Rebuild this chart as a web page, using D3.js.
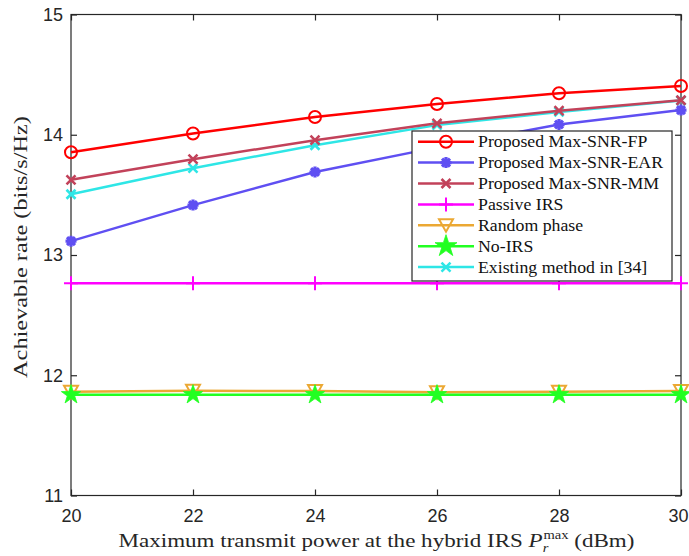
<!DOCTYPE html>
<html><head><meta charset="utf-8">
<script src="https://cdn.jsdelivr.net/npm/d3@7"></script>
<style>body{margin:0;background:#fff}svg{display:block}</style>
</head><body>
<svg id="c" width="689" height="556"></svg>
<script>
const xValues = [20, 22, 24, 26, 28, 30];
const seriesNames = ["Proposed Max-SNR-FP","Proposed Max-SNR-EAR","Proposed Max-SNR-MM","Passive IRS","Random phase","No-IRS","Existing method in [34]"];
const fpValues = [13.855, 14.01, 14.148, 14.256, 14.345, 14.405];
const earValues = [13.115, 13.415, 13.69, 13.895, 14.085, 14.205];
const mmValues = [13.625, 13.797, 13.955, 14.095, 14.200, 14.287];
const existingValues = [13.505, 13.722, 13.913, 14.08, 14.19, 14.285];
const passiveValues = [12.765, 12.765, 12.765, 12.765, 12.765, 12.765];
const randomValues = [11.862, 11.872, 11.868, 11.858, 11.862, 11.87];
const noIrsValues = [11.838, 11.838, 11.838, 11.838, 11.838, 11.838];
const xTicks = [20, 22, 24, 26, 28, 30];
const yTicks = [11, 12, 13, 14, 15];

const series = [
  {name: seriesNames[0], values: fpValues, color: "#ff0000", marker: "circle"},
  {name: seriesNames[1], values: earValues, color: "#5f4ff2", marker: "asterisk"},
  {name: seriesNames[2], values: mmValues, color: "#c2425a", marker: "x"},
  {name: seriesNames[3], values: passiveValues, color: "#ff00ff", marker: "plus"},
  {name: seriesNames[4], values: randomValues, color: "#eba833", marker: "tridown"},
  {name: seriesNames[5], values: noIrsValues, color: "#22ff22", marker: "star"},
  {name: seriesNames[6], values: existingValues, color: "#2ee6e6", marker: "x"}
];
const drawOrder = [4, 5, 3, 1, 6, 2, 0];

const svg = d3.select("#c");
const L = 71, R = 681, T = 14.5, B = 495.5;
const x = d3.scaleLinear().domain([20, 30]).range([L, R]);
const y = d3.scaleLinear().domain([11, 15]).range([B, T]);
const axisColor = "#262626";
const serif = "'Liberation Serif', 'Times New Roman', serif";

// axes with inward ticks
const gx = svg.append("g").attr("transform", `translate(0,${B})`)
  .call(d3.axisBottom(x).tickValues(xTicks).tickSizeInner(-6).tickSizeOuter(0).tickPadding(14).tickFormat(d3.format("d")));
const gxt = svg.append("g").attr("transform", `translate(0,${T})`)
  .call(d3.axisTop(x).tickValues(xTicks).tickSizeInner(-6).tickSizeOuter(0).tickFormat(""));
const gy = svg.append("g").attr("transform", `translate(${L},0)`)
  .call(d3.axisLeft(y).tickValues(yTicks).tickSizeInner(-6).tickSizeOuter(0).tickPadding(14).tickFormat(d3.format("d")));
const gyr = svg.append("g").attr("transform", `translate(${R},0)`)
  .call(d3.axisRight(y).tickValues(yTicks).tickSizeInner(-6).tickSizeOuter(0).tickFormat(""));
[gx, gxt, gy, gyr].forEach(g => {
  g.select(".domain").remove();
  g.selectAll(".tick line").attr("stroke", axisColor).attr("stroke-width", 1.2);
  g.selectAll(".tick text").attr("fill", "#262626").style("font-family", "'Liberation Sans', Arial, sans-serif").style("font-size", "18px");
});
gx.selectAll(".tick text").attr("dy", "0.71em").attr("y", 14)
  .attr("dx", d => d === 30 ? -3 : 0);
gy.selectAll(".tick text").attr("x", -8);
svg.append("rect").attr("x", L).attr("y", T).attr("width", R - L).attr("height", B - T)
  .attr("fill", "none").attr("stroke", axisColor).attr("stroke-width", 1.2);

function markerPath(type, legend) {
  switch (type) {
    case "circle": return d3.arc()({innerRadius: 0, outerRadius: 6, startAngle: 0, endAngle: 2 * Math.PI});
    case "asterisk": {
      const r = 5.5, d = r * 0.72;
      return `M${-r},0L${r},0M0,${-r}L0,${r}M${-d},${-d}L${d},${d}M${-d},${d}L${d},${-d}`;
    }
    case "x": { const r = 4.5; return `M${-r},${-r}L${r},${r}M${-r},${r}L${r},${-r}`; }
    case "plus": { const r = 7; return `M${-r},0L${r},0M0,${-r}L0,${r}`; }
    case "tridown": return "M-7,-6L7,-6L0,6.5Z";
    case "star": return d3.symbol(d3.symbolStar, legend ? 150 : 115)();
  }
}
function drawMarker(g, type, color, cx, cy, legend) {
  const p = g.append("path").attr("d", markerPath(type, legend)).attr("transform", `translate(${cx},${cy})`);
  if (type === "star") p.attr("fill", color).attr("stroke", color).attr("stroke-width", 0.8);
  else if (type === "asterisk") p.attr("fill", "none").attr("stroke", color).attr("stroke-width", 3.2);
  else if (type === "x") p.attr("fill", "none").attr("stroke", color).attr("stroke-width", 2.6);
  else p.attr("fill", "none").attr("stroke", color).attr("stroke-width", 2);
}

const line = d3.line().x((d, i) => x(xValues[i])).y(d => y(d));
drawOrder.forEach(si => {
  const s = series[si];
  const g = svg.append("g");
  g.append("path").attr("d", line(s.values)).attr("fill", "none").attr("stroke", s.color).attr("stroke-width", 2.5);
  s.values.forEach((v, i) => drawMarker(g, s.marker, s.color, x(xValues[i]), y(v), false));
});

// helper: stretch text horizontally to a target width (mimics wider LaTeX font)
function fitWidth(textSel, target) {
  const w = textSel.node().getBBox().width;
  return w > 0 ? target / w : 1;
}

// legend
const lg = svg.append("g");
lg.append("rect").attr("x", 412).attr("y", 131).attr("width", 260).attr("height", 150)
  .attr("fill", "#fff").attr("stroke", axisColor).attr("stroke-width", 1.2);
const legendTexts = [];
series.forEach((s, i) => {
  const cy = 141.7 + i * 20.9;
  lg.append("line").attr("x1", 418).attr("x2", 474).attr("y1", cy).attr("y2", cy).attr("stroke", s.color).attr("stroke-width", 2.5);
  drawMarker(lg, s.marker, s.color, 446, cy, true);
  const tg = lg.append("g").attr("data-cy", cy);
  const t = tg.append("text").text(s.name)
    .style("font-family", serif).style("font-size", "17px").attr("fill", "#111");
  legendTexts.push({g: tg, t: t, cy: cy});
});
const legendScale = fitWidth(legendTexts[1].t, 186);
legendTexts.forEach(o => o.g.attr("transform", `translate(478,${o.cy + 5.5}) scale(${legendScale},1)`));

// axis titles
const ytG = svg.append("g");
const ytT = ytG.append("text").attr("text-anchor", "middle")
  .style("font-family", serif).style("font-size", "19px").attr("fill", "#262626")
  .text("Achievable rate (bits/s/Hz)");
const ys = fitWidth(ytT, 262);
ytG.attr("transform", `translate(27,247) rotate(-90) scale(${ys},1)`);

const xtG = svg.append("g");
const xt = xtG.append("text").attr("text-anchor", "middle")
  .style("font-family", serif).style("font-size", "19px").attr("fill", "#262626");
xt.append("tspan").text("Maximum transmit power at the hybrid IRS ");
xt.append("tspan").style("font-style", "italic").text("P");
xt.append("tspan").attr("dy", 5).style("font-size", "12px").style("font-style", "italic").text("r");
xt.append("tspan").attr("dy", -13).attr("dx", -4).style("font-size", "12px").text("max");
xt.append("tspan").attr("dy", 8).text(" (dBm)");
const xs = fitWidth(xt, 516);
xtG.attr("transform", `translate(376.5,547) scale(${xs},1)`);
</script>
</body></html>
